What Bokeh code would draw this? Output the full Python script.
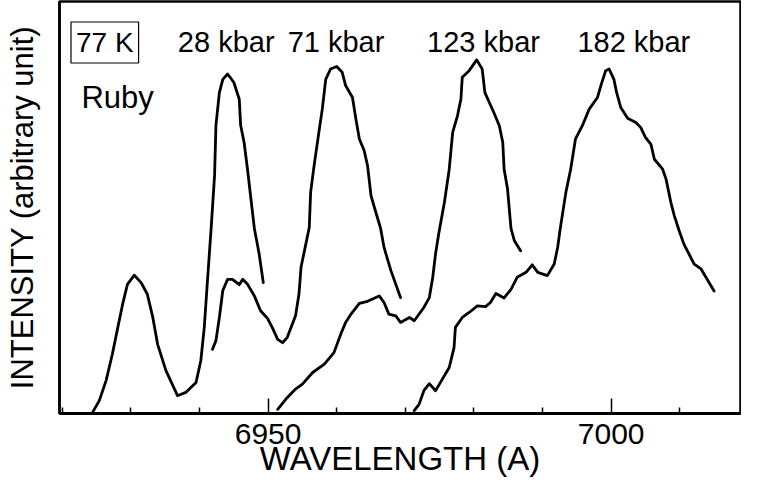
from bokeh.plotting import figure
from bokeh.models import Range1d, FixedTicker, Label, ColumnDataSource
from bokeh.core.properties import value
from bokeh.embed import file_html
from bokeh.resources import INLINE

# ---- data (wavelength in Angstrom, intensity in arbitrary units) ----
wl_28 = [6924.4, 6925.4, 6926.4, 6927.3, 6928.1, 6928.8, 6929.5, 6930.5, 6931.5, 6932.4,
         6933.2, 6933.9, 6935.1, 6936.8, 6938.0, 6939.5, 6940.2, 6940.7, 6941.2, 6941.7,
         6942.2, 6942.4, 6942.9, 6943.4, 6944.1, 6945.0, 6945.8, 6946.0, 6946.5, 6947.0,
         6947.5, 6948.0, 6948.7, 6949.3]
int_28 = [0.2, 3.1, 8.0, 14.3, 20.8, 26.4, 31.2, 33.4, 31.6, 28.8,
          23.2, 16.7, 10.4, 4.3, 5.1, 7.5, 12.8, 20.8, 32.9, 44.7,
          57.5, 69.6, 77.5, 80.7, 82.0, 80.0, 75.9, 69.6, 65.5, 59.0,
          51.8, 44.7, 38.5, 31.6]

wl_71 = [6941.9, 6942.4, 6942.9, 6943.4, 6944.1, 6944.8, 6945.8, 6946.3, 6947.0, 6948.0,
         6948.9, 6949.9, 6950.6, 6951.4, 6952.1, 6952.8, 6954.0, 6954.5, 6954.8, 6955.5,
         6956.0, 6956.2, 6956.7, 6957.4, 6957.9, 6958.4, 6959.1, 6960.0, 6960.8, 6961.3,
         6962.3, 6962.8, 6963.3, 6964.0, 6964.5, 6965.0, 6965.7, 6966.4, 6966.9, 6967.9,
         6969.3]
int_71 = [15.5, 17.6, 23.2, 29.7, 32.4, 32.4, 31.1, 32.4, 31.2, 28.4,
          24.8, 23.0, 20.8, 17.9, 17.1, 18.4, 23.6, 28.8, 35.3, 40.9,
          44.9, 53.4, 59.8, 67.9, 73.5, 80.7, 83.2, 83.8, 82.4, 79.2,
          76.3, 71.1, 66.3, 63.5, 59.8, 52.6, 48.6, 44.7, 40.1, 34.5,
          28.0]

wl_123 = [6951.4, 6952.6, 6954.0, 6955.0, 6956.5, 6958.2, 6959.6, 6960.6, 6961.3, 6962.0,
          6963.3, 6964.5, 6966.2, 6966.9, 6967.6, 6968.6, 6969.3, 6970.6, 6971.3, 6972.7,
          6973.5, 6974.0, 6974.4, 6974.9, 6975.7, 6976.4, 6976.9, 6977.6, 6978.1, 6978.3,
          6979.3, 6980.4, 6981.2, 6981.6, 6982.9, 6983.7, 6984.2, 6984.4, 6984.9, 6985.4,
          6985.9, 6986.8]
int_123 = [1.0, 3.5, 5.9, 7.1, 9.9, 11.9, 14.7, 19.2, 22.0, 23.8,
           26.6, 27.1, 28.4, 26.8, 24.0, 23.6, 22.0, 23.2, 22.4, 25.6,
           28.0, 32.9, 38.5, 43.7, 51.0, 59.0, 67.9, 71.9, 75.9, 81.2,
           82.8, 85.4, 83.2, 77.5, 72.7, 69.5, 65.5, 59.0, 54.2, 44.7,
           41.7, 39.3]

wl_182 = [6971.3, 6972.0, 6972.7, 6973.5, 6974.4, 6975.4, 6976.4, 6977.1, 6977.3, 6978.3,
          6979.3, 6980.5, 6981.7, 6982.4, 6983.2, 6984.4, 6985.4, 6986.3, 6987.6, 6988.5,
          6989.3, 6990.7, 6991.7, 6992.2, 6992.6, 6993.4, 6994.1, 6994.8, 6995.8, 6996.8,
          6998.0, 6998.5, 6999.2, 6999.7, 7000.4, 7000.8, 7001.4, 7002.4, 7003.6, 7004.3,
          7005.0, 7005.8, 7006.3, 7007.5, 7008.0, 7008.7, 7009.2, 7009.9, 7010.6, 7012.1,
          7013.1, 7015.0]
int_182 = [0.7, 2.2, 5.5, 7.2, 5.5, 8.3, 11.1, 15.9, 20.8, 23.2,
           24.4, 26.0, 25.8, 26.8, 29.0, 27.9, 30.0, 32.9, 34.1, 35.9,
           34.1, 33.3, 36.1, 40.1, 44.9, 53.4, 59.0, 66.3, 69.5, 73.5,
           76.3, 79.2, 82.8, 83.2, 80.7, 77.5, 73.9, 71.3, 70.3, 69.1,
           66.7, 65.0, 61.4, 59.0, 56.6, 51.0, 47.8, 44.2, 40.9, 36.1,
           34.9, 29.6]

pressure_labels = ["28 kbar", "71 kbar", "123 kbar", "182 kbar"]
pressure_label_x = [6943.9, 6959.9, 6981.4, 7003.3]
pressure_label_y = [89.6, 89.6, 89.6, 89.6]

major_ticks = [6950, 7000]
minor_ticks = [6920, 6930, 6940, 6960, 6970, 6980, 6990, 7010]

# ---- figure ----
p = figure(width=741, height=487, output_backend="svg", toolbar_location=None,
           x_range=Range1d(6919.6, 7018.85), y_range=Range1d(0, 99.5),
           min_border_left=59, min_border_right=1, min_border_top=1, min_border_bottom=74)
p.background_fill_color = "white"
p.border_fill_color = "white"
p.outline_line_color = "black"
p.outline_line_width = 2.5
p.xgrid.visible = False
p.ygrid.visible = False

series = [(wl_28, int_28), (wl_71, int_71), (wl_123, int_123), (wl_182, int_182)]
for wl, it in series:
    p.line(wl, it, line_color="black", line_width=2.8, line_join="round", line_cap="round")

# pressure labels
src = ColumnDataSource(dict(x=pressure_label_x, y=pressure_label_y, t=pressure_labels))
p.text(x="x", y="y", text="t", source=src, text_align="center", text_baseline="alphabetic",
       text_font=value("Liberation Sans"), text_font_size="29px", text_color="black")

p.add_layout(Label(x=6926.2, y=89.6, text="77 K", text_align="center", text_baseline="alphabetic",
                   text_font="Liberation Sans", text_font_size="28px", text_color="black",
                   border_line_color="black", border_line_width=1.2, padding=5))
p.add_layout(Label(x=6922.8, y=76.3, text="Ruby", text_align="left", text_baseline="alphabetic",
                   text_font="Liberation Sans", text_font_size="31px", text_color="black"))

# x axis
xa = p.xaxis[0]
xa.ticker = FixedTicker(ticks=major_ticks, minor_ticks=minor_ticks)
xa.major_tick_in = 15
xa.major_tick_out = 0
xa.minor_tick_in = 6
xa.minor_tick_out = 0
xa.major_tick_line_width = 1.5
xa.minor_tick_line_width = 1.5
xa.axis_line_width = 3
xa.major_label_text_font = "Liberation Sans"
xa.major_label_text_font_size = "30px"
xa.major_label_text_color = "black"
xa.major_label_standoff = 10
xa.axis_label = "WAVELENGTH (A)"
xa.axis_label_text_font = "Liberation Sans"
xa.axis_label_text_font_size = "33px"
xa.axis_label_text_font_style = "normal"
xa.axis_label_text_color = "black"
xa.axis_label_standoff = -7

# y axis
ya = p.yaxis[0]
ya.ticker = FixedTicker(ticks=[])
ya.major_label_text_font_size = "0px"
ya.major_tick_line_color = None
ya.minor_tick_line_color = None
ya.major_label_standoff = 0
ya.axis_line_width = 2.5
ya.axis_label = "INTENSITY (arbitrary unit)"
ya.axis_label_text_font = "Liberation Sans"
ya.axis_label_text_font_size = "31px"
ya.axis_label_text_font_style = "normal"
ya.axis_label_text_color = "black"
ya.axis_label_standoff = 20

open("out.html", "w").write(file_html(p, INLINE))
